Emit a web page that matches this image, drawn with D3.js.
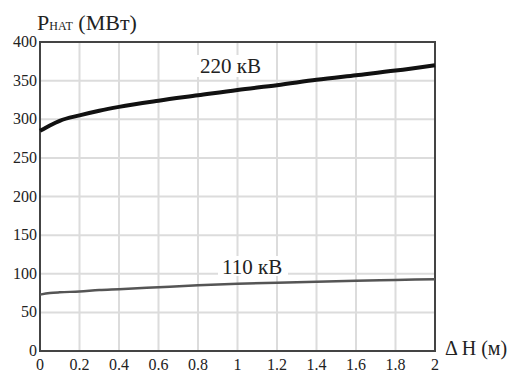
<!DOCTYPE html>
<html>
<head>
<meta charset="utf-8">
<script src="https://cdn.jsdelivr.net/npm/d3@7"></script>
<style>
  body { margin: 0; background: #fff; }
  text { font-family: "Liberation Serif", "DejaVu Serif", serif; fill: #222; }
</style>
</head>
<body>
<svg id="chart" width="515" height="372"></svg>
<script>
// data
var dh = [0, 0.05, 0.1, 0.2, 0.3, 0.4, 0.6, 0.8, 1.0, 1.2, 1.4, 1.6, 1.8, 2.0];
var p220 = [285, 292, 298, 305, 311, 316, 324, 331, 338, 344, 351, 357, 363, 370];
var p110 = [73, 75, 76, 77, 79, 80, 82.5, 85, 87, 88.5, 89.5, 91, 92, 93];
var xTicks = [0, 0.2, 0.4, 0.6, 0.8, 1, 1.2, 1.4, 1.6, 1.8, 2];
var yTicks = [0, 50, 100, 150, 200, 250, 300, 350, 400];

var svg = d3.select("#chart");
var pLeft = 40, pRight = 435, pTop = 42, pBottom = 351;

var x = d3.scaleLinear().domain([0, 2]).range([pLeft, pRight]);
var y = d3.scaleLinear().domain([0, 400]).range([pBottom, pTop]);

// grid
svg.append("g").selectAll("line").data(xTicks.slice(1, -1)).enter().append("line")
	.attr("x1", d => x(d)).attr("x2", d => x(d))
	.attr("y1", pTop).attr("y2", pBottom)
	.attr("stroke", "#dcdcdc").attr("stroke-width", 2);
svg.append("g").selectAll("line").data(yTicks.slice(1, -1)).enter().append("line")
	.attr("x1", pLeft).attr("x2", pRight)
	.attr("y1", d => y(d)).attr("y2", d => y(d))
	.attr("stroke", "#dcdcdc").attr("stroke-width", 2);

// frame
svg.append("rect")
	.attr("x", pLeft).attr("y", pTop)
	.attr("width", pRight - pLeft).attr("height", pBottom - pTop)
	.attr("fill", "none").attr("stroke", "#444").attr("stroke-width", 2);

// tick labels
svg.append("g").selectAll("text").data(yTicks).enter().append("text")
	.attr("x", pLeft - 3).attr("y", d => y(d) + 5)
	.attr("text-anchor", "end").attr("font-size", 16)
	.text(d => d);
svg.append("g").selectAll("text").data(xTicks).enter().append("text")
	.attr("x", d => x(d)).attr("y", 370)
	.attr("text-anchor", "middle").attr("font-size", 16)
	.text(d => d);

// curves
var line = d3.line().x(d => x(d[0])).y(d => y(d[1])).curve(d3.curveMonotoneX);
svg.append("path").datum(dh.map((d, i) => [d, p220[i]]))
	.attr("d", line).attr("fill", "none")
	.attr("stroke", "#111").attr("stroke-width", 4);
svg.append("path").datum(dh.map((d, i) => [d, p110[i]]))
	.attr("d", line).attr("fill", "none")
	.attr("stroke", "#555").attr("stroke-width", 2.5);

// curve labels
svg.append("rect").attr("x", 196).attr("y", 55).attr("width", 74).attr("height", 22).attr("fill", "#fff");
svg.append("text").attr("x", 200).attr("y", 73).attr("font-size", 21).text("220 кВ");
svg.append("rect").attr("x", 218).attr("y", 256).attr("width", 70).attr("height", 20).attr("fill", "#fff");
svg.append("text").attr("x", 222).attr("y", 274).attr("font-size", 21).text("110 кВ");

// axis titles
var t = svg.append("text").attr("x", 37).attr("y", 30).attr("font-size", 22);
t.append("tspan").text("P");
t.append("tspan").attr("font-size", 12).text("НАТ");
t.append("tspan").text(" (MBт)");
svg.append("text").attr("x", 445).attr("y", 355).attr("font-size", 20).text("Δ H (м)");
</script>
</body>
</html>
